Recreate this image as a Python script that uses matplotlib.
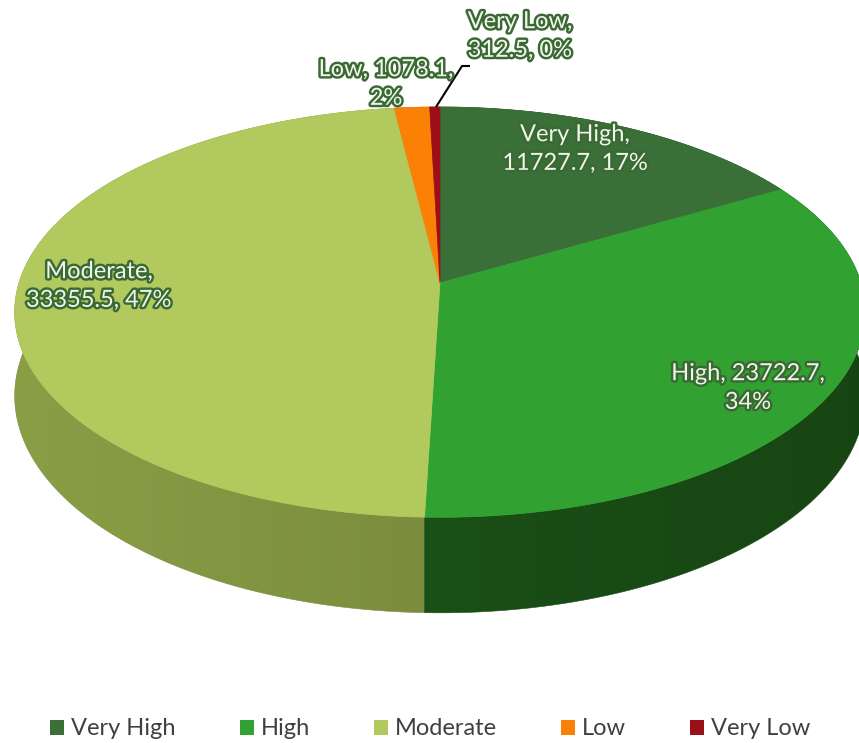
import numpy as np
import matplotlib.pyplot as plt
from matplotlib.colors import to_rgb
from matplotlib.patches import Polygon, Patch
import matplotlib.patheffects as pe

plt.rcParams['font.family'] = ['Lato', 'DejaVu Sans']

# data
categories = ["Very High", "High", "Moderate", "Low", "Very Low"]
values = [11727.7, 23722.7, 33355.5, 1078.1, 312.5]
pct_labels = ["17%", "34%", "47%", "2%", "0%"]

top_colors = ["#3a6f38", "#31a231", "#b1c95d", "#fb8006", "#9a1016"]
side_colors = ["#234a20", "#1a4f16", "#7b8d3e", "#b35a05", "#5e0a0d"]

# geometry of the projected disc (pixel units)
AX, AY = 440, 283     # apex / centre of the disc
RS, RT = 421, 201     # horizontal / vertical radius factors
P = 0.142             # perspective strength
D = 82                # thickness


def proj(theta, drop=0.0):
    u, v = np.sin(theta), np.cos(theta)
    w = 1 + P * v
    return AX + RS * u / w, AY - RT * v / w + drop / w


fig = plt.figure(figsize=(8.59, 7.43), dpi=100)
ax = fig.add_axes([0, 0, 1, 1])
ax.set_xlim(0, 859)
ax.set_ylim(743, 0)
ax.axis("off")

fracs = np.array(values) / sum(values)
bounds = np.concatenate([[0], np.cumsum(fracs)]) * 2 * np.pi

# side walls: back slices first, front slices last
order = sorted(range(len(values)),
               key=lambda i: -np.cos((bounds[i] + bounds[i + 1]) / 2))
for i in order:
    th = np.linspace(bounds[i], bounds[i + 1], 300)
    xt, yt = proj(th)
    xb, yb = proj(th, D)
    pts = list(zip(xt, yt)) + list(zip(xb[::-1], yb[::-1]))
    poly = Polygon(pts, closed=True, facecolor="none", edgecolor="none")
    ax.add_patch(poly)
    x0, x1 = min(min(xt), min(xb)) - 2, max(max(xt), max(xb)) + 2
    y0, y1 = min(min(yt), min(yb)) - 2, max(max(yt), max(yb)) + 2
    gx = np.linspace(x0, x1, 400)
    f = 1 + 0.12 * (AX - gx) / RS
    base = np.array(to_rgb(side_colors[i]))
    img = np.clip(base[None, :] * f[:, None], 0, 1)[None, :, :]
    im = ax.imshow(img, extent=(x0, x1, y1, y0), aspect="auto",
                   interpolation="bilinear", zorder=1)
    im.set_clip_path(poly)
    ax.add_patch(Polygon(pts, closed=True, facecolor="none",
                         edgecolor=side_colors[i], lw=0.4, zorder=1))

# top faces
for i in range(len(values)):
    th = np.linspace(bounds[i], bounds[i + 1], 200)
    xs, ys = proj(th)
    pts = [(AX, AY)] + list(zip(xs, ys))
    ax.add_patch(Polygon(pts, closed=True, facecolor=top_colors[i],
                         edgecolor=top_colors[i], lw=0.5, zorder=2))

# data labels
label_pos = [(575, 149), (748, 388), (99, 286), (386, 84), (520, 36)]
label_text = [
    "Very High,\n11727.7, 17%",
    "High, 23722.7,\n34%",
    "Moderate,\n33355.5, 47%",
    "Low, 1078.1,\n2%",
    "Very Low,\n312.5, 0%",
]
stroke = [pe.withStroke(linewidth=3.5, foreground="#3b6934")]
for (x, y), t in zip(label_pos, label_text):
    ax.text(x, y, t, ha="center", va="center", fontsize=17, color="#eef7ea",
            linespacing=1.45, path_effects=stroke, zorder=4)

# leader line for the smallest slice
ax.plot([470, 462, 436], [66, 66, 107], color="black", lw=1.5,
        solid_capstyle="butt", zorder=3)

handles = [Patch(facecolor=c, edgecolor="none") for c in top_colors]
fig.legend(handles, categories, loc="center", bbox_to_anchor=(0.501, 0.019),
           ncol=5, frameon=False, fontsize=17, handlelength=0.6,
           handleheight=0.6, handletextpad=0.3, columnspacing=2.7,
           labelcolor="#404040")

fig.savefig("out.png", dpi=100)
